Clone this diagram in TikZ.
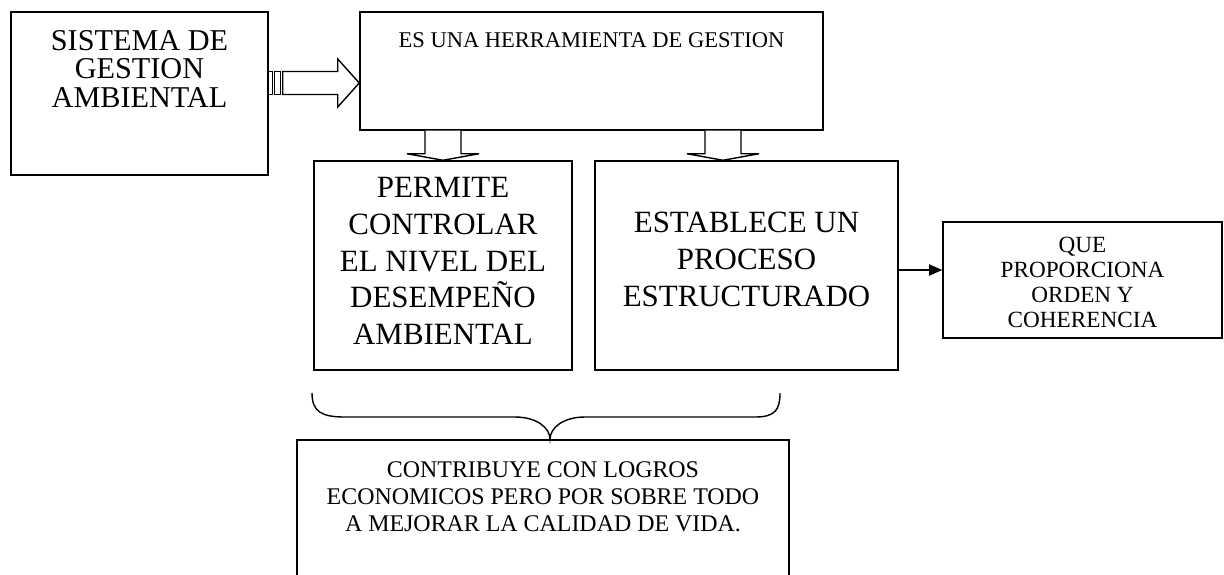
\documentclass[tikz,border=0pt]{standalone}
\usepackage{fontspec}
\setmainfont{Liberation Serif}
\usetikzlibrary{arrows.meta,calc}
\tikzset{
  caja/.style = {draw=black, fill=white, inner sep=0pt},
  texto/.style = {align=center, inner sep=0pt, anchor=north},
  bloque/.style = {draw=black, fill=white, line join=miter},
}

\begin{document}
\begin{tikzpicture}[x=0.025cm, y=-0.025cm, line width=1pt]
\clip (0,0) rectangle (1224,574);
% cajas
\node[caja, minimum width=6.425cm, minimum height=4.075cm] (sga) at (139.5,93.5) {};
\node[caja, minimum width=11.575cm, minimum height=2.95cm] (herr) at (591.5,71) {};
\node[caja, minimum width=6.45cm, minimum height=5.225cm] (perm) at (443,265.5) {};
\node[caja, minimum width=7.575cm, minimum height=5.225cm] (estab) at (746.5,265.5) {};
\node[caja, minimum width=6.975cm, minimum height=2.9cm] (que) at (1082.5,280) {};
\node[caja, minimum width=12.3cm, minimum height=4.5cm] (cont) at (543,530) {};
% textos
\node[texto, font=\fontsize{21.5}{20.3}\selectfont] (sgat) at ($(sga.north)+(0,18)$)
  {SISTEMA DE\\GESTION\\AMBIENTAL};
\node[texto, font=\fontsize{16}{19}\selectfont] (herrt) at ($(herr.north)+(0,20.5)$)
  {ES UNA HERRAMIENTA DE GESTION};
\node[texto, font=\fontsize{22}{26.1}\selectfont] (permt) at ($(perm.north)+(0,16.5)$)
  {PERMITE\\CONTROLAR\\EL NIVEL DEL\\DESEMPEÑO\\AMBIENTAL};
\node[texto, font=\fontsize{22}{26.1}\selectfont] (estabt) at ($(estab.north)+(0,51.5)$)
  {ESTABLECE UN\\PROCESO\\ESTRUCTURADO};
\node[texto, font=\fontsize{16.5}{17.6}\selectfont] (quet) at ($(que.north)+(0,15.6)$)
  {QUE\\PROPORCIONA\\ORDEN Y\\COHERENCIA};
\node[texto, font=\fontsize{17}{19.2}\selectfont] (contt) at ($(cont.north)+(0,22)$)
  {CONTRIBUYE CON LOGROS\\ECONOMICOS PERO POR SOBRE TODO\\A MEJORAR LA CALIDAD DE VIDA.};
% flecha rayada
\coordinate (ini) at (sga.east |- 0,83);
\draw[bloque] ($(ini)+(0,-11.5)$) rectangle ++(4,23);
\draw[bloque] ($(ini)+(6,-11.5)$) rectangle ++(6,23);
\draw[bloque] ($(ini)+(14,-11.5)$) -- ($(ini)+(69,-11.5)$) -- ($(ini)+(69,-24)$)
  -- (herr.west |- ini) -- ($(ini)+(69,24)$) -- ($(ini)+(69,11.5)$) -- ($(ini)+(14,11.5)$) -- cycle;
% flechas hacia abajo
\coordinate (b1) at (herr.south -| perm.north);
\coordinate (b2) at (herr.south -| 723,0);
\foreach \b/\c in {b1/perm, b2/estab}{
  \draw[bloque] ($(\b)+(-18,0)$) -- ($(\b)+(-18,23)$) -- ($(\b)+(-36,23)$)
    -- (\b |- \c.north) -- ($(\b)+(36,23)$) -- ($(\b)+(18,23)$) -- ($(\b)+(18,0)$);
}
% flecha a la derecha
\draw[-{Triangle[length=0.33cm, width=0.28cm]}] (estab.east |- 0,270) -- (que.west |- 0,270);
% llave
\coordinate (pico) at (cont.north -| 550,0);
\draw (312,393) .. controls (312,412) and (322,417) .. (345,417) -- (515,417)
  .. controls (537,417) and (550,428) .. (pico)
  .. controls (550,428) and (563,417) .. (585,417) -- (755,417)
  .. controls (775,417) and (780,410) .. (780,393);
\end{tikzpicture}
\end{document}
